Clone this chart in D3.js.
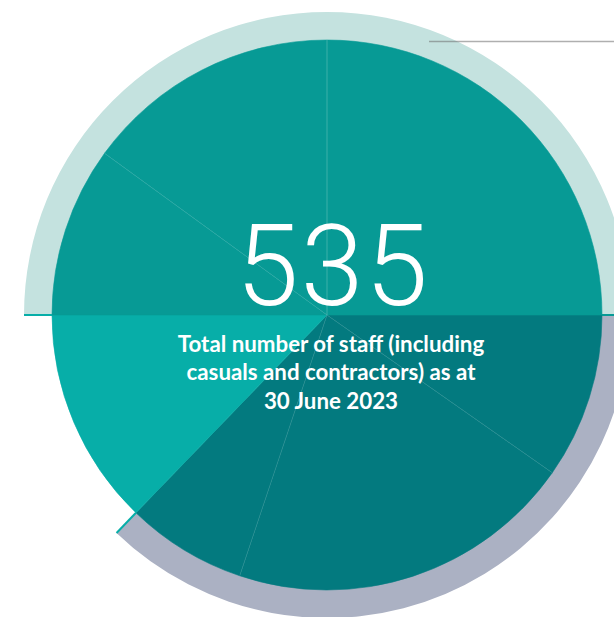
<!DOCTYPE html>
<html>
<head>
<meta charset="utf-8">
<script src="https://cdn.jsdelivr.net/npm/d3@7/dist/d3.min.js"></script>
<style>
  html, body { margin: 0; padding: 0; background: #ffffff; }
  svg { display: block; }
</style>
</head>
<body>
<div id="chart"></div>
<script>
// Staff breakdown wheel: slice shares (degrees of the circle), clockwise from 3 o'clock
const sliceShares = [35, 73.5, 25.5, 46, 36, 54, 90];
// Colour group of each slice
const sliceGroups = ["dark", "dark", "dark", "bright", "mid", "mid", "mid"];
const groupNames = ["mid", "bright", "dark"];
const groupColors = ["#079a95", "#07aea8", "#037a7f"];
// Outer band drawn around each group (null = no band)
const bandColors = ["#c4e2df", null, "#abb1c3"];

const totalStaff = 535;
const captionLines = [
  "Total number of staff (including",
  "casuals and contractors) as at",
  "30 June 2023"
];

const W = 614, H = 617;
const cx = 327, cy = 315;
const rPie = 275, rBand = 303;

const svg = d3.select("#chart").append("svg")
  .attr("width", W).attr("height", H);

const fill = d3.scaleOrdinal().domain(groupNames).range(groupColors);
const band = d3.scaleOrdinal().domain(groupNames).range(bandColors);

const pie = d3.pie()
  .sort(null)
  .value(d => d)
  .startAngle(Math.PI / 2)
  .endAngle(Math.PI / 2 + 2 * Math.PI);

const arcs = pie(sliceShares).map((a, i) => Object.assign(a, { group: sliceGroups[i] }));

const g = svg.append("g").attr("transform", `translate(${cx},${cy})`);

// Outer bands: one arc spanning every slice of a group
const bandArc = d3.arc().innerRadius(rPie - 1).outerRadius(rBand);
groupNames.forEach(name => {
  const members = arcs.filter(a => a.group === name);
  if (!members.length || !band(name)) return;
  g.append("path")
    .attr("d", bandArc({
      startAngle: d3.min(members, a => a.startAngle),
      endAngle: d3.max(members, a => a.endAngle)
    }))
    .attr("fill", band(name));
});

// Slices
const sliceArc = d3.arc().innerRadius(0).outerRadius(rPie);
g.selectAll("path.slice")
  .data(arcs)
  .join("path")
  .attr("class", "slice")
  .attr("d", sliceArc)
  .attr("fill", d => fill(d.group))
  .attr("stroke", d => fill(d.group))
  .attr("stroke-width", 0.6);

// Fine divider lines between slices of the same group
const polar = (r, a) => [r * Math.sin(a), -r * Math.cos(a)];
arcs.forEach((a, i) => {
  const prev = arcs[(i + arcs.length - 1) % arcs.length];
  if (prev.group !== a.group) return;
  const [x2, y2] = polar(rPie, a.startAngle);
  g.append("line")
    .attr("x1", 0).attr("y1", 0).attr("x2", x2).attr("y2", y2)
    .attr("stroke", "#ffffff")
    .attr("stroke-opacity", a.group === "mid" && Math.abs(x2) < 1 ? 0.28 : 0.16)
    .attr("stroke-width", 0.8);
});

// Edge ticks where a group boundary crosses the outer bands
arcs.forEach((a, i) => {
  const prev = arcs[(i + arcs.length - 1) % arcs.length];
  if (prev.group === a.group) return;
  const [x1, y1] = polar(rPie, a.startAngle);
  const [x2, y2] = polar(rBand, a.startAngle);
  const col = a.group === "bright" || prev.group === "bright" ? fill("bright") : fill("mid");
  g.append("line")
    .attr("x1", x1).attr("y1", y1).attr("x2", x2).attr("y2", y2)
    .attr("stroke", col)
    .attr("stroke-width", 2);
});

// Rule at the top right
svg.append("line")
  .attr("x1", 429).attr("x2", W)
  .attr("y1", 41.5).attr("y2", 41.5)
  .attr("stroke", "rgba(110,110,110,0.55)")
  .attr("stroke-width", 1.6);

// Headline figure
svg.append("text")
  .attr("x", 333).attr("y", 305)
  .attr("text-anchor", "middle")
  .attr("fill", "#ffffff")
  .style("font-family", "Roboto, 'Open Sans', sans-serif")
  .style("font-weight", 300)
  .style("font-size", "113px")
  .style("letter-spacing", "2px")
  .text(totalStaff);

// Caption
const cap = svg.append("text")
  .attr("text-anchor", "middle")
  .attr("fill", "#ffffff")
  .style("font-family", "Lato, 'Open Sans', sans-serif")
  .style("font-weight", 700)
  .style("font-size", "22.3px");
captionLines.forEach((t, i) => {
  cap.append("tspan")
    .attr("x", 331)
    .attr("y", 351.5 + i * 28.5)
    .text(t);
});
</script>
</body>
</html>
